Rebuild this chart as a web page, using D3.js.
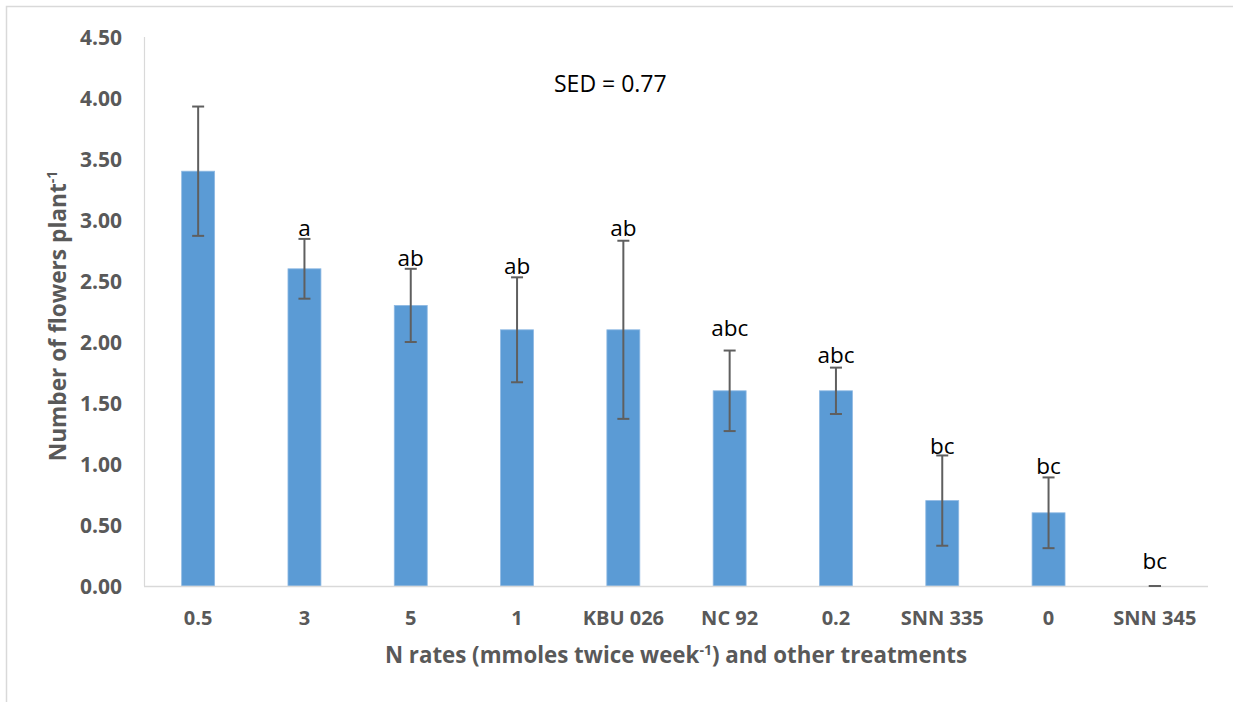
<!DOCTYPE html>
<html>
<head>
<meta charset="utf-8">
<script src="https://cdn.jsdelivr.net/npm/d3@7"></script>
<style>
  html, body { margin: 0; padding: 0; background: #fff; }
  svg { display: block; }
  text { font-family: "Open Sans", "Noto Sans", sans-serif; }
</style>
</head>
<body>
<svg id="chart" width="1233" height="702"></svg>
<script>
// ---- data ----
const categories = ["0.5", "3", "5", "1", "KBU 026", "NC 92", "0.2", "SNN 335", "0", "SNN 345"];
const means      = [3.40, 2.60, 2.30, 2.10, 2.10, 1.60, 1.60, 0.70, 0.60, 0.00];
const errors     = [0.53, 0.245, 0.30, 0.43, 0.73, 0.33, 0.19, 0.37, 0.29, 0.00];
const letters    = ["", "a", "ab", "ab", "ab", "abc", "abc", "bc", "bc", "bc"];
const letterAt   = [0, 2.93, 2.69, 2.62, 2.93, 2.11, 1.89, 1.15, 0.98, 0.20];
const yTicks     = [0, 0.5, 1, 1.5, 2, 2.5, 3, 3.5, 4, 4.5];
const sedText    = "SED = 0.77";

// ---- layout ----
const svg = d3.select("#chart");
const plot = { left: 145, right: 1208, top: 37, bottom: 586 };
const axisGray = "#595959";

// outer frame (only top and left edges visible)
svg.append("rect")
  .attr("x", 6.5).attr("y", 6.5)
  .attr("width", 1300).attr("height", 800)
  .attr("fill", "none").attr("stroke", "#d9d9d9").attr("stroke-width", 1.5);

const x = d3.scaleBand()
  .domain(categories)
  .range([plot.left, plot.right])
  .paddingInner(0.69)
  .paddingOuter(0.345);

const y = d3.scaleLinear()
  .domain([0, 4.5])
  .range([plot.bottom, plot.top]);

// y axis line
svg.append("line")
  .attr("x1", plot.left - 0.5).attr("x2", plot.left - 0.5)
  .attr("y1", plot.top).attr("y2", plot.bottom)
  .attr("stroke", "#d9d9d9").attr("stroke-width", 1.2);

// y tick labels
const yAxis = d3.axisLeft(y).tickValues(yTicks).tickFormat(d3.format(".2f")).tickSize(0).tickPadding(0);
const gy = svg.append("g").attr("transform", `translate(${plot.left - 23},0)`).call(yAxis);
gy.select(".domain").remove();
gy.selectAll("text")
  .attr("fill", axisGray)
  .style("font-size", "21px")
  .style("font-weight", "700")
  .attr("dy", "0.35em");

// bars
svg.append("g").selectAll("rect")
  .data(categories)
  .join("rect")
  .attr("x", (d) => x(d))
  .attr("width", x.bandwidth())
  .attr("y", (d, i) => y(means[i]))
  .attr("height", (d, i) => y(0) - y(means[i]))
  .attr("fill", "#5b9bd5")
  .attr("stroke", "#8fb9e3")
  .attr("stroke-width", 0.8);

// x axis line
svg.append("line")
  .attr("x1", plot.left - 1).attr("x2", plot.right)
  .attr("y1", plot.bottom + 0.5).attr("y2", plot.bottom + 0.5)
  .attr("stroke", "#d9d9d9").attr("stroke-width", 1.5);

// error bars
const capHalf = 6;
const eg = svg.append("g").attr("stroke", "#5f5f5f").attr("stroke-width", 2).attr("fill", "none");
categories.forEach((c, i) => {
  const cx = x(c) + x.bandwidth() / 2;
  const yTop = y(means[i] + errors[i]);
  const yBot = y(Math.max(0, means[i] - errors[i]));
  if (errors[i] > 0) {
    eg.append("line").attr("x1", cx).attr("x2", cx).attr("y1", yTop).attr("y2", yBot);
  }
  eg.append("line").attr("x1", cx - capHalf).attr("x2", cx + capHalf).attr("y1", yTop).attr("y2", yTop);
  eg.append("line").attr("x1", cx - capHalf).attr("x2", cx + capHalf).attr("y1", yBot).attr("y2", yBot);
});

// significance letters
svg.append("g").selectAll("text")
  .data(categories)
  .join("text")
  .attr("x", (d) => x(d) + x.bandwidth() / 2)
  .attr("y", (d, i) => y(letterAt[i]))
  .attr("dy", "0.35em")
  .attr("text-anchor", "middle")
  .attr("fill", "#000")
  .style("font-size", "22.5px")
  .text((d, i) => letters[i]);

// x tick labels
const xAxis = d3.axisBottom(x).tickSize(0).tickPadding(0);
const gx = svg.append("g").attr("transform", `translate(0,${plot.bottom + 32})`).call(xAxis);
gx.select(".domain").remove();
gx.selectAll("text")
  .attr("fill", axisGray)
  .attr("dy", "0.35em")
  .style("font-size", "20px")
  .style("font-weight", "700");

// x axis title
const xt = svg.append("text")
  .attr("x", 676).attr("y", 663)
  .attr("text-anchor", "middle")
  .attr("fill", axisGray)
  .style("font-size", "22.3px")
  .style("font-weight", "700");
xt.append("tspan").text("N rates (mmoles twice week");
xt.append("tspan").attr("dy", -8).style("font-size", "14px").text("-1");
xt.append("tspan").attr("dy", 8).text(") and other treatments");

// y axis title
const yt = svg.append("text")
  .attr("transform", "translate(66,316) rotate(-90)")
  .attr("text-anchor", "middle")
  .attr("fill", axisGray)
  .style("font-size", "22.7px")
  .style("font-weight", "700");
yt.append("tspan").text("Number of flowers plant");
yt.append("tspan").attr("dy", -9).style("font-size", "14px").text("-1");

// SED annotation
svg.append("text")
  .attr("x", 554).attr("y", 92)
  .attr("fill", "#000")
  .style("font-size", "23px")
  .text(sedText);
</script>
</body>
</html>
